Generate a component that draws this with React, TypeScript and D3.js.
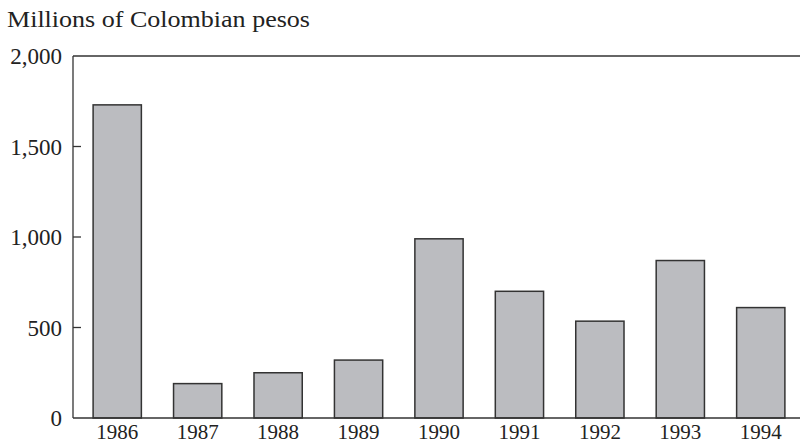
import { useEffect, useRef } from "react";
import * as d3 from "d3";

const years = ["1986", "1987", "1988", "1989", "1990", "1991", "1992", "1993", "1994"];
const values = [1730, 190, 250, 320, 990, 700, 535, 870, 610];
const yTicks = [0, 500, 1000, 1500, 2000];

const W = 800;
const H = 443;

const App = () => {
    const svgRef = useRef<SVGSVGElement | null>(null);

    useEffect(() => {
        const svg = d3.select(svgRef.current);
        svg.selectAll("*").remove();

        const left = 73;
        const top = 56;
        const bottom = 418;
        const font = "'Liberation Serif', 'DejaVu Serif', serif";

        const x = d3.scaleBand().domain(years).range([left, 805]).paddingInner(0.4).paddingOuter(0.25);
        const y = d3.scaleLinear().domain([0, 2000]).range([bottom, top]);

        // bars
        svg
            .selectAll(".bar")
            .data(values)
            .enter()
            .append("rect")
            .attr("class", "bar")
            .attr("x", (d, i) => x(years[i]) as number)
            .attr("y", (d) => y(d))
            .attr("width", x.bandwidth())
            .attr("height", (d) => bottom - y(d))
            .style("fill", "#bbbcc0")
            .style("stroke", "#333")
            .style("stroke-width", 1.5);

        // frame: left axis, top and bottom lines
        const frame = svg.append("g").style("stroke", "#333").style("stroke-width", 1.3);
        frame.append("line").attr("x1", left).attr("x2", left).attr("y1", top).attr("y2", bottom);
        frame.append("line").attr("x1", left).attr("x2", W).attr("y1", top).attr("y2", top);
        frame.append("line").attr("x1", left).attr("x2", W).attr("y1", bottom).attr("y2", bottom);

        // inward ticks
        frame
            .selectAll(".tick")
            .data(yTicks.filter((t) => t > 0 && t < 2000))
            .enter()
            .append("line")
            .attr("x1", left)
            .attr("x2", left + 8)
            .attr("y1", (d) => y(d))
            .attr("y2", (d) => y(d));

        // y labels
        svg
            .selectAll(".ylab")
            .data(yTicks)
            .enter()
            .append("text")
            .attr("x", 62)
            .attr("y", (d) => y(d))
            .attr("dy", "0.35em")
            .style("text-anchor", "end")
            .style("font-family", font)
            .style("font-size", "23px")
            .style("fill", "#222")
            .text((d) => d3.format(",")(d));

        // x labels
        svg
            .selectAll(".xlab")
            .data(years)
            .enter()
            .append("text")
            .attr("x", (d) => (x(d) as number) + x.bandwidth() / 2)
            .attr("y", 439)
            .style("text-anchor", "middle")
            .style("font-family", font)
            .style("font-size", "21px")
            .style("fill", "#222")
            .text((d) => d);

        svg
            .append("text")
            .attr("x", 7)
            .attr("y", 27)
            .attr("textLength", 303)
            .attr("lengthAdjust", "spacingAndGlyphs")
            .style("font-family", font)
            .style("font-size", "24px")
            .style("fill", "#222")
            .text("Millions of Colombian pesos");
    }, []);

    return (
        <svg
            ref={svgRef}
            width={W}
            height={H}
            style={{ position: "absolute", left: 0, top: 0, background: "#fff" }}
        ></svg>
    );
};

export default App;
